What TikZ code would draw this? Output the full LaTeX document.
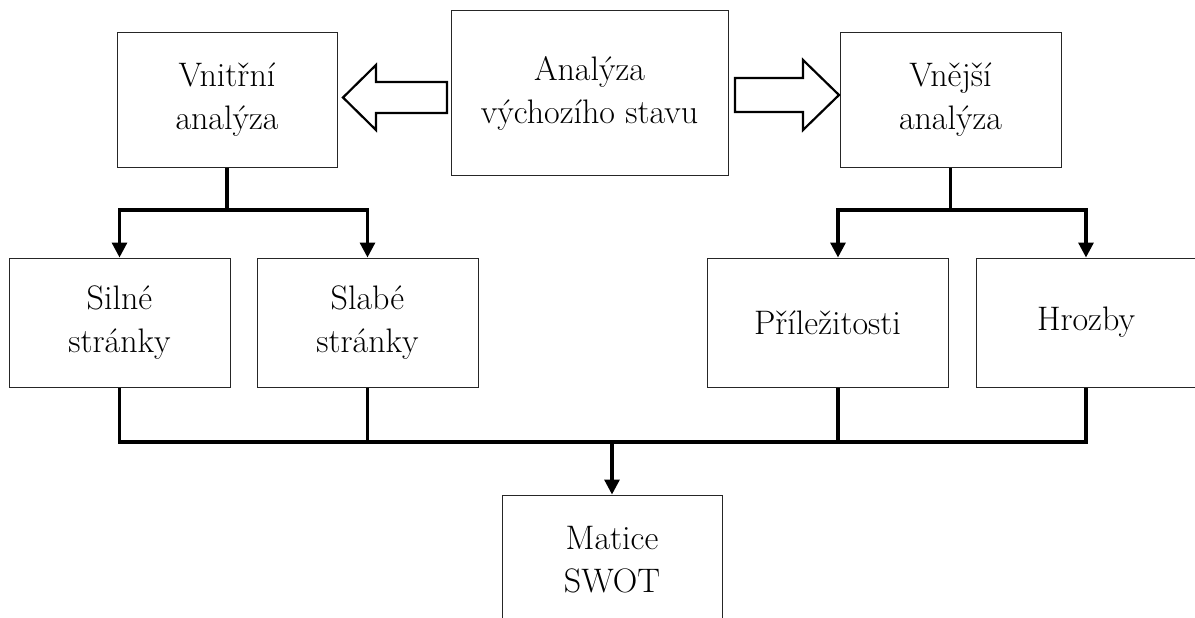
\documentclass[tikz,border=0pt]{standalone}
\usetikzlibrary{arrows.meta}
\begin{document}
\begin{tikzpicture}[x=1pt,y=-1pt,
  box/.style={draw=black!85, line width=1pt, fill=white, inner sep=0pt,
    align=center, font=\fontsize{34}{43}\selectfont},
  conn/.style={line width=3.2pt, line join=miter},
  arr/.style={conn, -{Triangle[width=15pt,length=15pt]}},
  bigarrow/.style={draw=black, line width=2.2pt, fill=white, line join=miter}]
\clip (0,0) rectangle (1195,618);
\fill[white] (0,0) rectangle (1195,618);

% boxes
\node[box, minimum width=277pt, minimum height=164pt] (A) at (589.5,93) {Analýza\\výchozího stavu};
\node[box, minimum width=220pt, minimum height=134pt] (V) at (227,100) {Vnitřní\\analýza};
\node[box, minimum width=221pt, minimum height=134pt] (E) at (950.5,100) {Vnější\\analýza};
\node[box, minimum width=221pt, minimum height=129pt] (S1) at (119.5,322.5) {Silné\\stránky};
\node[box, minimum width=221pt, minimum height=129pt] (S2) at (367.5,322.5) {Slabé\\stránky};
\node[box, minimum width=241pt, minimum height=129pt] (P) at (827.5,322.5) {Příležitosti};
\node[box, minimum width=220pt, minimum height=129pt] (H) at (1086,322.5) {Hrozby};
\node[box, minimum width=220pt, minimum height=130pt] (M) at (612,560) {Matice\\SWOT};

% big hollow arrows
\draw[bigarrow] (343,97.5) -- (376,65) -- (376,82) -- (447,82) -- (447,113) -- (376,113) -- (376,130) -- cycle;
\draw[bigarrow] (839,95) -- (803,60) -- (803,78) -- (735,78) -- (735,112) -- (803,112) -- (803,130) -- cycle;

% branch levels
\coordinate (br) at (0,210);
\coordinate (bus) at (0,442);
\coordinate (Pin) at ([xshift=10.5pt]P.north);
\coordinate (Pout) at ([xshift=10.5pt]P.south);

% left branch
\draw[arr] (V.south) |- (S1.north |- br) -- (S1.north);
\draw[arr] (V.south |- br) -| (S2.north);
% right branch
\draw[arr] (E.south) |- (Pin |- br) -- (Pin);
\draw[arr] (E.south |- br) -| (H.north);

% bottom bus
\draw[conn] (S1.south) -- (S1.south |- bus) -- (H.south |- bus) -- (H.south);
\draw[conn] (S2.south) -- (S2.south |- bus);
\draw[conn] (Pout) -- (Pout |- bus);
\draw[arr] (M.north |- bus) -- (M.north);
\end{tikzpicture}
\end{document}
